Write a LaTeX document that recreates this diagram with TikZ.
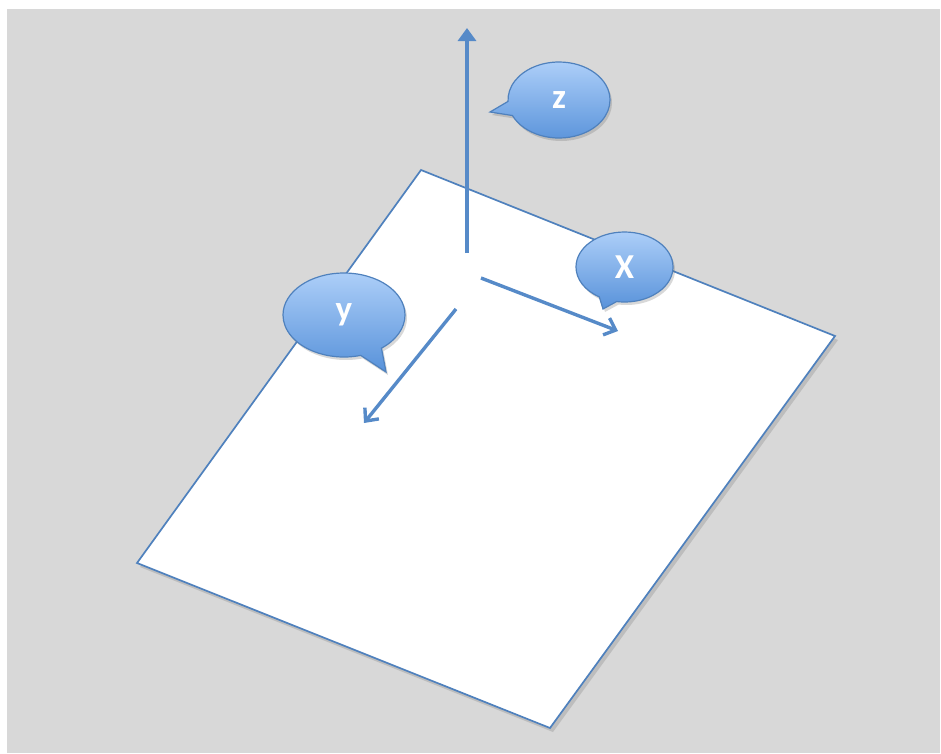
\documentclass[tikz,border=0pt]{standalone}
\usepackage{fontspec}
\setmainfont{Carlito}
\usetikzlibrary{shapes.callouts,shadows,arrows.meta,shadings}
\definecolor{bgray}{RGB}{216,216,216}
\definecolor{edgeblue}{RGB}{79,129,189}
\definecolor{arrowblue}{RGB}{86,138,200}
\definecolor{toplight}{RGB}{172,206,248}
\definecolor{botdark}{RGB}{88,146,218}
\tikzset{
  plane/.style={draw=edgeblue,line width=1.7pt,fill=white,line join=miter,
    drop shadow={shadow xshift=3pt,shadow yshift=-4pt,opacity=0.3,fill=black!50}},
  axis/.style={draw=arrowblue,line width=3.4pt},
  bubble/.style={ellipse callout,draw=edgeblue,line width=1.2pt,
    top color=toplight,bottom color=botdark,
    text=white,font=\fontsize{35}{40}\selectfont\bfseries,
    callout pointer arc=22,
    drop shadow={shadow xshift=2pt,shadow yshift=-3pt,opacity=0.25,fill=black!60}}
}
\begin{document}
\begin{tikzpicture}[x=1pt,y=-1pt]
\useasboundingbox (0,0) rectangle (941,753);
\fill[white] (0,0) rectangle (941,753);
\fill[bgray] (7,9) rectangle (940,753);
% plane corners
\coordinate (pt) at (421,170);
\coordinate (pr) at (835,336);
\coordinate (pb) at (550,728);
\coordinate (pl) at (137,563);
\path[plane] (pt) -- (pr) -- (pb) -- (pl) -- cycle;
% axes
\coordinate (zs) at (467,253);
\coordinate (ze) at (467,28);
\coordinate (xs) at (481,278);
\coordinate (xe) at (618,331);
\coordinate (ys) at (456,309);
\coordinate (ye) at (364,423);
\draw[axis,-{Triangle[length=13pt,width=18pt]}] (zs) -- (ze);
\draw[axis,-{Straight Barb[length=10pt,width=18pt,line width=3.4pt]}] (xs) -- (xe);
\draw[axis,-{Straight Barb[length=10pt,width=18pt,line width=3.4pt]}] (ys) -- (ye);
% callouts
\node[bubble,inner sep=0pt,minimum width=102pt,minimum height=76pt,callout absolute pointer={(490,112)}] (zb) at (559,100) {z};
\node[bubble,inner sep=0pt,minimum width=122pt,minimum height=84pt,callout absolute pointer={(386,372)}] (yb) at (344,315) {y};
\node[bubble,inner sep=0pt,minimum width=97pt,minimum height=70pt,callout absolute pointer={(603,309)}] (xb) at (624.5,267) {X};
\end{tikzpicture}
\end{document}
